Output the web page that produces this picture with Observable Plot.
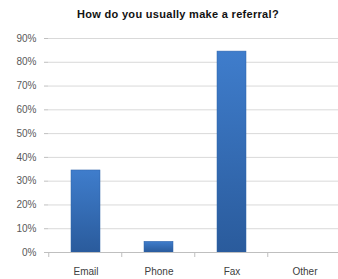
<!DOCTYPE html>
<html>
<head>
<meta charset="utf-8">
<script src="https://cdn.jsdelivr.net/npm/d3@7"></script>
<script src="https://cdn.jsdelivr.net/npm/@observablehq/plot@0.6"></script>
<style>
  html, body { margin: 0; padding: 0; background: #fff; }
  #title { height: 26px; font: bold 11px "Liberation Sans", Arial, sans-serif; line-height: 28px; letter-spacing: 0.3px; text-align: center; color: #111; width: 320px; padding-left: 18px; }
  svg { display: block; }
</style>
</head>
<body>
<div id="title">How do you usually make a referral?</div>
<div id="chart"></div>
<script>
const categories = ["Email", "Phone", "Fax", "Other"];
const shares = [0.345, 0.045, 0.845, 0];
const yTicks = [0, 0.1, 0.2, 0.3, 0.4, 0.5, 0.6, 0.7, 0.8, 0.9];

const data = categories.map((c, i) => ({ category: c, share: shares[i] }));

const chart = Plot.plot({
  width: 338,
  height: 253,
  marginLeft: 48,
  marginRight: 0,
  marginTop: 12,
  marginBottom: 27,
  style: { fontFamily: "'Liberation Sans', Arial, sans-serif", fontSize: "10px", color: "#595959", background: "#fff" },
  x: { domain: categories, range: [48, 342], paddingInner: 0.6, paddingOuter: 0.3, label: null },
  y: { domain: [0, 0.9], label: null },
  marks: [
    Plot.gridY(yTicks, { stroke: "#d9d9d9", strokeOpacity: 1 }),
    Plot.barY(data, { x: "category", y: "share", fill: "url(#barGrad)", stroke: "#2f63a8", strokeWidth: 0.5 }),
    Plot.axisY(yTicks, { tickFormat: d3.format(".0%"), tickSize: 4, tickPadding: 8, stroke: "#bfbfbf", fill: "#595959", label: null }),
    Plot.ruleX([0], { x: () => 48, y1: 0, y2: 0.9, stroke: "#bfbfbf" }),
    Plot.ruleY([0], { stroke: "#bfbfbf" }),
    Plot.axisX({ tickSize: 0, tickPadding: 15, fill: "#404040", label: null })
  ]
});

const svg = d3.select(chart);
const defs = svg.insert("defs", ":first-child");
const grad = defs.append("linearGradient").attr("id", "barGrad").attr("x1", 0).attr("y1", 0).attr("x2", 0).attr("y2", 1);
grad.append("stop").attr("offset", "0%").attr("stop-color", "#3f7dcc");
grad.append("stop").attr("offset", "100%").attr("stop-color", "#2a5b9c");

const xs = chart.scale("x");
const ys = chart.scale("y");
const step = (xs.range[1] - xs.range[0]) / (categories.length - xs.paddingInner + 2 * xs.paddingOuter);
const y0 = ys.apply(0);
categories.forEach((c) => {
  const cx = xs.apply(c) + xs.bandwidth / 2;
  const bx = cx - step / 2;
  svg.append("line").attr("x1", bx).attr("x2", bx).attr("y1", y0).attr("y2", y0 + 5).attr("stroke", "#bfbfbf");
});

document.getElementById("chart").appendChild(chart);
</script>
</body>
</html>
